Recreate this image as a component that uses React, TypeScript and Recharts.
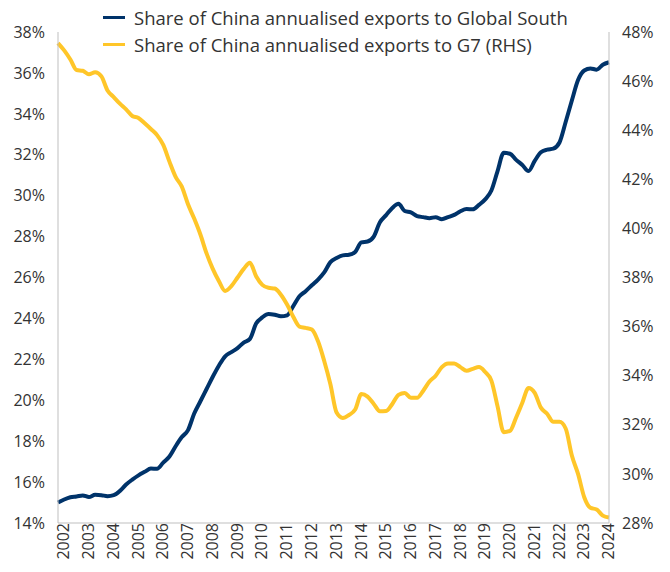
import React from "react"
import { LineChart, Line, XAxis, YAxis, Legend } from "recharts"

// quarterly points, 2002 Q1 to 2024 Q2
const quarters: number[] = Array.from({ length: 90 }, (_, i) => 2002 + i * 0.25)

// share of China annualised exports to Global South, % (left axis)
const globalSouth = [
  15.0, 15.15, 15.26, 15.3, 15.35, 15.27, 15.38, 15.36, 15.31, 15.36, 15.57, 15.88,
  16.12, 16.33, 16.5, 16.66, 16.65, 16.95, 17.25, 17.75, 18.2, 18.54, 19.35, 19.95,
  20.55, 21.15, 21.7, 22.15, 22.35, 22.55, 22.82, 23.0, 23.75, 24.05, 24.22, 24.18,
  24.1, 24.15, 24.6, 25.08, 25.33, 25.62, 25.9, 26.25, 26.75, 26.95, 27.08, 27.11,
  27.25, 27.72, 27.76, 28.0, 28.7, 29.05, 29.4, 29.6, 29.25, 29.18, 29.0, 28.95,
  28.9, 28.95, 28.85, 28.95, 29.06, 29.24, 29.35, 29.33, 29.55, 29.82, 30.25, 31.2,
  32.1, 32.05, 31.75, 31.5, 31.2, 31.7, 32.12, 32.25, 32.3, 32.6, 33.6, 34.65,
  35.65, 36.12, 36.22, 36.16, 36.4, 36.52,
]

// share of China annualised exports to G7, % (right axis)
const g7 = [
  47.55, 47.25, 46.88, 46.45, 46.42, 46.28, 46.36, 46.2, 45.62, 45.35, 45.08, 44.85,
  44.58, 44.5, 44.28, 44.05, 43.8, 43.4, 42.72, 42.1, 41.7, 40.98, 40.4, 39.75,
  38.98, 38.35, 37.85, 37.45, 37.65, 38.0, 38.35, 38.6, 38.05, 37.7, 37.58, 37.55,
  37.3, 36.9, 36.4, 36.0, 35.95, 35.88, 35.4, 34.6, 33.65, 32.5, 32.28, 32.4,
  32.62, 33.25, 33.15, 32.85, 32.55, 32.56, 32.85, 33.22, 33.3, 33.1, 33.1, 33.39,
  33.76, 34.0, 34.35, 34.5, 34.5, 34.35, 34.2, 34.28, 34.35, 34.15, 33.8, 32.75,
  31.7, 31.75, 32.3, 32.9, 33.5, 33.3, 32.7, 32.45, 32.12, 32.12, 31.85, 30.75,
  30.0, 29.05, 28.62, 28.55, 28.3, 28.22,
]

const yearTicks = Array.from({ length: 23 }, (_, i) => 2002 + i)
const leftTicks = [14, 16, 18, 20, 22, 24, 26, 28, 30, 32, 34, 36, 38]
const rightTicks = [28, 30, 32, 34, 36, 38, 40, 42, 44, 46, 48]

const seriesNames = [
  "Share of China annualised exports to Global South",
  "Share of China annualised exports to G7 (RHS)",
]

const data = quarters.map((t, i) => ({ t, gs: globalSouth[i], g7: g7[i] }))

const BLUE = "#00336A"
const YELLOW = "#FFC629"
const FONT = "'Open Sans', sans-serif"

const pct = (v: number) => `${v}%`

function LegendBox() {
  const colors = [BLUE, YELLOW]
  return (
    <div style={{ fontFamily: FONT, fontSize: 18.5, color: "#333" }}>
      {seriesNames.map((name, i) => (
        <div key={name} style={{ display: "flex", alignItems: "center", height: 27 }}>
          <span style={{ display: "inline-block", width: 22, height: 3, background: colors[i], marginRight: 9 }} />
          <span>{name}</span>
        </div>
      ))}
    </div>
  )
}

export default function App() {
  return (
    <div style={{ width: 670, height: 572, background: "#fff" }}>
      <style>{`body{margin:0}`}</style>
      <LineChart width={670} height={572} data={data} margin={{ top: 32, right: 0, bottom: 0, left: 0 }}>
        <XAxis
          dataKey="t"
          type="number"
          domain={[2002, 2024.25]}
          ticks={yearTicks}
          interval={0}
          angle={-90}
          textAnchor="end"
          tickLine={false}
          tickSize={4}
          tickMargin={1}
          height={49}
          stroke="#BFBFBF"
          tick={{ fill: "#333", fontSize: 16, fontFamily: FONT, dy: -5 } as any}
        />
        <YAxis
          yAxisId="left"
          domain={[14, 38]}
          ticks={leftTicks}
          interval={0}
          tickFormatter={pct}
          width={58}
          tickLine={false}
          tickMargin={7}
          stroke="#BFBFBF"
          tick={{ fill: "#333", fontSize: 16, fontFamily: FONT }}
        />
        <YAxis
          yAxisId="right"
          orientation="right"
          domain={[28, 48]}
          ticks={rightTicks}
          interval={0}
          tickFormatter={pct}
          width={61}
          tickLine={false}
          tickMargin={7}
          stroke="#BFBFBF"
          tick={{ fill: "#333", fontSize: 16, fontFamily: FONT }}
        />
        <Legend
          layout="horizontal"
          align="center"
          verticalAlign="middle"
          wrapperStyle={{ top: 4, left: 103, width: "auto" }}
          content={() => <LegendBox />}
        />
        <Line
          yAxisId="left"
          dataKey="gs"
          type="monotone"
          stroke={BLUE}
          strokeWidth={4}
          dot={false}
          isAnimationActive={false}
        />
        <Line
          yAxisId="right"
          dataKey="g7"
          type="monotone"
          stroke={YELLOW}
          strokeWidth={4}
          dot={false}
          isAnimationActive={false}
        />
      </LineChart>
    </div>
  )
}
